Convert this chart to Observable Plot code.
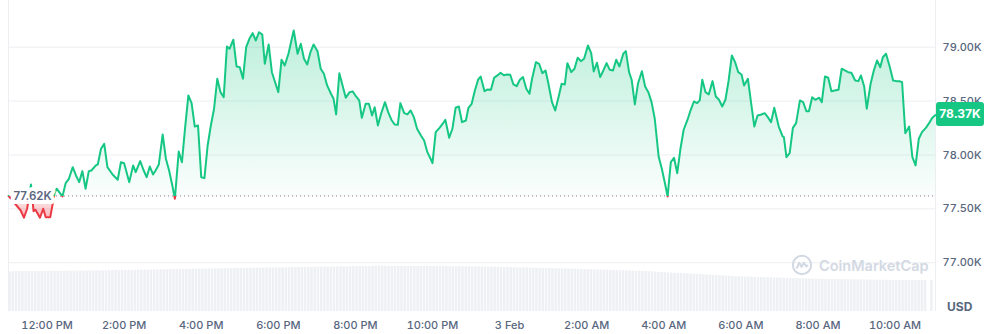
<!DOCTYPE html>
<html><head><meta charset="utf-8">
<script src="https://cdn.jsdelivr.net/npm/d3@7"></script>
<script src="https://cdn.jsdelivr.net/npm/@observablehq/plot@0.6"></script>
<style>
body{margin:0;background:#fff;font-family:Inter,sans-serif;}
#chart{position:relative;width:990px;height:334px;overflow:hidden;}
#chart svg{position:absolute;left:0;top:0;}
.tag{position:absolute;left:936px;width:48px;height:24px;background:#16c784;color:#fff;font:700 12px Inter,sans-serif;line-height:24px;text-align:center;border-radius:3px;}
.usd{position:absolute;left:947px;top:300px;font:700 12px Inter,sans-serif;color:#58667e;line-height:14px;}
.wm{position:absolute;left:791px;top:254px;display:flex;align-items:center;gap:6px;color:#d3d9e3;font:600 14.5px Inter,sans-serif;}
</style></head><body><div id="chart"></div>
<script>
// ---- data (BTC/USD, 2 Feb 11:00 -> 3 Feb ~11:02, UTC clock) ----
const startISO = "2025-02-02T11:00:00Z";
const minutes = [0,19,24,29,35,39,42,49,54,58,65,72,75,81,84,89,94,100,105,110,115,120,125,129,136,139,144,149,154,162,170,175,180,188,194,198,205,210,215,220,225,229,234,240,245,250,255,259,265,270,275,280,285,290,295,300,305,310,315,320,325,330,335,340,344,350,355,360,365,370,375,380,385,390,395,399,405,410,415,420,425,430,436,441,444,450,455,460,465,470,475,481,486,491,496,502,506,510,515,520,525,531,536,541,546,550,556,561,566,570,575,580,586,591,596,601,606,610,616,621,626,631,636,642,647,652,657,660,665,671,676,680,686,691,696,701,706,712,716,721,726,731,735,741,746,751,756,761,766,771,776,781,786,791,796,801,806,811,815,821,826,831,836,840,846,851,856,861,866,870,876,881,886,891,896,902,907,911,916,921,926,931,936,941,946,951,957,961,966,970,975,980,986,991,996,1001,1006,1012,1017,1022,1026,1031,1036,1041,1046,1051,1057,1062,1067,1072,1076,1080,1085,1090,1096,1101,1106,1111,1116,1121,1126,1131,1136,1141,1145,1151,1156,1161,1166,1171,1177,1182,1187,1192,1199,1205,1207,1211,1216,1221,1226,1232,1237,1242,1246,1251,1256,1262,1266,1271,1276,1281,1286,1292,1297,1302,1307,1312,1318,1323,1327,1332,1336,1342,1347,1352,1357,1361,1366,1372,1377,1382,1387,1391,1396,1402,1407,1412,1417,1422,1428,1433,1438,1443];
const prices = [77620,77485,77418,77501,77726,77479,77492,77418,77501,77423,77423,77652,77687,77640,77615,77739,77779,77887,77810,77748,77850,77687,77850,77856,77903,77912,78058,78104,77887,77819,77770,77933,77924,77748,77903,77841,77943,77863,77794,77893,77819,77856,77912,78190,77965,77856,77717,77594,78033,77933,78258,78552,78481,78264,78274,77794,77785,78088,78274,78429,78707,78583,78536,79007,78985,79069,78821,78814,78707,79000,79078,79130,79062,79139,79118,78846,79025,78768,78675,78583,78883,78830,78944,79078,79155,78939,79032,78892,78840,78954,79025,78963,78800,78753,78645,78568,78521,78376,78759,78645,78531,78583,78589,78543,78506,78345,78475,78475,78366,78443,78274,78382,78490,78397,78327,78283,78280,78481,78388,78376,78413,78351,78243,78181,78135,78026,77965,77924,78212,78252,78290,78327,78160,78243,78438,78450,78304,78320,78438,78475,78598,78698,78728,78592,78608,78605,78716,78738,78763,78740,78747,78744,78654,78638,78698,78722,78614,78568,78707,78861,78846,78759,78784,78675,78490,78413,78531,78661,78654,78852,78768,78800,78902,78870,78892,79016,78944,78775,78855,78722,78784,78852,78790,78784,78883,78821,78939,78963,78768,78698,78469,78666,78777,78635,78583,78490,78336,77986,77872,77733,77615,77933,77974,77831,78058,78234,78327,78419,78496,78481,78506,78698,78583,78561,78685,78543,78512,78450,78512,78691,78923,78861,78768,78747,78645,78707,78481,78264,78366,78373,78388,78351,78304,78438,78264,78172,78165,77980,78017,78252,78295,78506,78490,78406,78406,78536,78512,78531,78490,78728,78716,78592,78598,78605,78800,78784,78768,78763,78691,78685,78738,78635,78429,78661,78784,78877,78814,78907,78939,78814,78691,78685,78685,78675,78202,78264,77980,77903,78150,78212,78252,78295,78345,78370];
const openPrice = 77620;
const lastPriceLabel = "78.37K";
// volume bars, one per 5 minutes (relative units)
const volume = [
39.8,39.8,39.9,39.9,39.9,40.0,40.0,40.0,40.0,40.1,40.1,40.1,40.1,40.2,40.2,40.2,40.2,40.3,40.3,40.3,40.3,40.4,40.4,40.4,
40.5,40.5,40.5,40.6,40.6,40.7,40.7,40.8,40.8,40.9,40.9,41.0,41.0,41.1,41.1,41.2,41.2,41.3,41.3,41.4,41.5,41.5,41.6,41.7,
41.8,41.8,41.9,41.9,42.0,42.0,42.1,42.1,42.2,42.2,42.3,42.3,42.4,42.4,42.5,42.5,42.6,42.6,42.7,42.7,42.8,42.8,42.9,43.0,
43.1,43.1,43.2,43.2,43.3,43.3,43.4,43.4,43.5,43.5,43.6,43.6,43.7,43.7,43.8,43.8,43.9,43.9,44.0,44.0,44.1,44.1,44.2,44.2,
44.3,44.3,44.4,44.4,44.5,44.5,44.5,44.6,44.6,44.7,44.7,44.8,44.8,44.9,44.9,45.0,45.1,45.2,45.4,45.5,45.3,45.2,45.1,45.1,
45.0,45.0,45.0,45.0,45.0,45.0,45.0,45.0,45.0,45.0,45.0,45.0,45.0,44.9,44.9,44.9,44.9,44.8,44.8,44.8,44.8,44.7,44.7,44.7,
44.6,44.6,44.5,44.5,44.4,44.4,44.3,44.3,44.2,44.2,44.1,44.0,43.9,43.8,43.7,43.6,43.5,43.5,43.4,43.3,43.2,43.2,43.1,43.0,
42.9,42.8,42.8,42.7,42.6,42.5,42.4,42.3,42.2,42.1,42.0,41.9,41.8,41.7,41.6,41.5,41.4,41.3,41.2,41.1,41.0,40.9,40.8,40.7,
40.6,40.5,40.4,40.3,40.2,40.1,40.0,39.8,39.6,39.4,39.2,39.0,38.8,38.6,38.4,38.2,38.0,37.9,37.7,37.6,37.4,37.3,37.2,37.0,
36.8,36.6,36.4,36.2,36.0,35.8,35.6,35.4,35.2,35.0,34.8,34.7,34.6,34.4,34.3,34.2,34.1,34.0,33.9,33.8,33.7,33.6,33.5,33.4,
33.3,33.2,33.1,33.0,32.9,32.8,32.7,32.6,32.5,32.4,32.3,32.3,32.2,32.2,32.1,32.1,32.0,32.0,31.9,31.9,31.8,31.8,31.7,31.7,
31.6,31.6,31.5,31.5,31.4,31.4,31.3,31.3,31.2,31.2,31.1,31.1,31.1,31.0,31.0,31.0,31.0,31.0,31.0,31.0,31.0,31.0,0,31.0];
const yTicks = [77000,77500,78000,78500,79000];
const xTickTimes = ["2025-02-02T12:00Z","2025-02-02T14:00Z","2025-02-02T16:00Z","2025-02-02T18:00Z","2025-02-02T20:00Z","2025-02-02T22:00Z","2025-02-03T00:00Z","2025-02-03T02:00Z","2025-02-03T04:00Z","2025-02-03T06:00Z","2025-02-03T08:00Z","2025-02-03T10:00Z"];
const xTickLabels = ["12:00 PM","2:00 PM","4:00 PM","6:00 PM","8:00 PM","10:00 PM","3 Feb","2:00 AM","4:00 AM","6:00 AM","8:00 AM","10:00 AM"];

// ---- build ----
const t0 = new Date(startISO).getTime();
const data = minutes.map((m, i) => ({t: new Date(t0 + m * 60000), p: prices[i]}));
const xDomain = [new Date(t0), new Date(t0 + minutes[minutes.length - 1] * 60000)];
const xTicks = xTickTimes.map(s => new Date(s));
const labelOf = new Map(xTicks.map((d, i) => [d.getTime(), xTickLabels[i]]));
const fmtK = d => (d / 1000).toFixed(2) + "K";
const W = 990, H = 334;
const common = {width: W, height: H, marginLeft: 8, marginRight: 55, marginTop: 0, marginBottom: 23};

const main = Plot.plot({
  ...common,
  style: {fontFamily: "Inter, sans-serif", fontSize: "11px", fontWeight: "500", color: "#58667e", background: "transparent", overflow: "visible"},
  x: {type: "utc", domain: xDomain, ticks: xTicks, tickFormat: d => labelOf.get(d.getTime()) || "", tickSize: 0, tickPadding: 10, label: null},
  y: {domain: [76548, 79433], axis: "right", ticks: yTicks, tickFormat: fmtK, tickSize: 0, tickPadding: 7, label: null},
  marks: [
    Plot.ruleY(yTicks, {stroke: "#eceef1", strokeWidth: 1}),
    Plot.ruleX(xDomain, {stroke: "#eceef1", strokeWidth: 1}),
    Plot.areaY(data, {x: "t", y1: () => openPrice, y2: "p", fill: "url(#cmcArea)"}),
    Plot.ruleY([openPrice], {stroke: "#7d8595", strokeDasharray: "1,3", strokeWidth: 1}),
    Plot.line(data, {x: "t", y: "p", stroke: "url(#cmcLine)", strokeWidth: 2, strokeLinejoin: "round"}),
    Plot.text([openPrice], {x: () => xDomain[0], y: d => d, text: fmtK, textAnchor: "start", dx: 5, fontSize: 11.5, fontWeight: 600, fill: "white", stroke: "white", strokeWidth: 8}),
    Plot.text([openPrice], {x: () => xDomain[0], y: d => d, text: fmtK, textAnchor: "start", dx: 5, fontSize: 11.5, fontWeight: 600, fill: "#58667e"})
  ]
});

const ys = main.scale("y");
const yb = ys.apply(openPrice);
const f = yb / H;
const ns = "http://www.w3.org/2000/svg";
const defs = document.createElementNS(ns, "defs");
defs.innerHTML =
  `<linearGradient id="cmcLine" gradientUnits="userSpaceOnUse" x1="0" y1="0" x2="0" y2="${H}">
     <stop offset="${f}" stop-color="#16c784"/><stop offset="${f}" stop-color="#ea3943"/></linearGradient>
   <linearGradient id="cmcArea" gradientUnits="userSpaceOnUse" x1="0" y1="0" x2="0" y2="${H}">
     <stop offset="${20 / H}" stop-color="#16c784" stop-opacity="0.30"/>
     <stop offset="${f}" stop-color="#16c784" stop-opacity="0.02"/>
     <stop offset="${f}" stop-color="#ea3943" stop-opacity="0.08"/>
     <stop offset="${(yb + 22) / H}" stop-color="#ea3943" stop-opacity="0.35"/></linearGradient>`;
main.insertBefore(defs, main.firstChild);

const vol = volume.map((v, i) => ({t1: new Date(t0 + i * 300000), t2: new Date(t0 + (i + 1) * 300000), v}));
const volPlot = Plot.plot({
  ...common,
  marginTop: 262,
  style: {background: "transparent"},
  x: {type: "utc", domain: xDomain, axis: null},
  y: {domain: [0, 49], axis: null},
  marks: [Plot.rectY(vol, {x1: "t1", x2: "t2", y1: 0, y2: "v", fill: "#eef0f4", insetLeft: 0.35, insetRight: 0.35, clip: true})]
});

const chart = document.getElementById("chart");
chart.appendChild(main);
chart.appendChild(volPlot);

const tag = document.createElement("div");
tag.className = "tag";
tag.textContent = lastPriceLabel;
tag.style.top = (ys.apply(prices[prices.length - 1]) - 13) + "px";
chart.appendChild(tag);

const usd = document.createElement("div");
usd.className = "usd";
usd.textContent = "USD";
chart.appendChild(usd);

const wm = document.createElement("div");
wm.className = "wm";
wm.innerHTML = `<svg width="22" height="22" viewBox="0 0 24 24" style="position:static"><circle cx="12" cy="12" r="10" fill="none" stroke="#d3d9e3" stroke-width="2.2"/><path d="M6.5 15 L9 9.5 L11.5 14 L14 9.5 L16.5 13.5 L18 12.5" fill="none" stroke="#d3d9e3" stroke-width="2.2" stroke-linejoin="round" stroke-linecap="round"/></svg><span>CoinMarketCap</span>`;
chart.appendChild(wm);
</script></body></html>
